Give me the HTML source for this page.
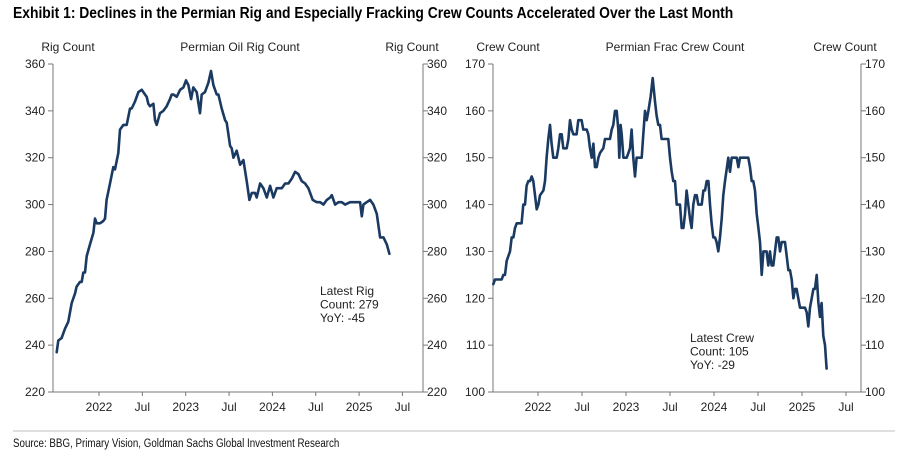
<!DOCTYPE html>
<html><head><meta charset="utf-8">
<style>
html,body{margin:0;padding:0;background:#fff;}
body{width:904px;height:468px;overflow:hidden;position:relative;font-family:"Liberation Sans",sans-serif;}
#title{position:absolute;left:13px;top:5px;font-family:"Liberation Sans",sans-serif;font-weight:bold;font-size:15.5px;color:#000;white-space:nowrap;transform:scaleX(0.895);transform-origin:0 0;}
#sep{position:absolute;left:13px;top:430px;width:882px;height:2px;background:#e0e0e0;}
#source{position:absolute;left:13px;top:438px;font-family:"Liberation Sans",sans-serif;font-size:11.5px;color:#111;white-space:nowrap;transform:scaleX(0.85);transform-origin:0 0;}
svg{position:absolute;left:0;top:0;}
</style></head><body>
<div id="title">Exhibit 1: Declines in the Permian Rig and Especially Fracking Crew Counts Accelerated Over the Last Month</div>
<svg id="chart" width="904" height="468"></svg>
<div id="sep"></div>
<div id="source">Source: BBG, Primary Vision, Goldman Sachs Global Investment Research</div>
<script>
const xTickLabels = ["2022","Jul","2023","Jul","2024","Jul","2025","Jul"];
const xTickValues = [2022,2022.5,2023,2023.5,2024,2024.5,2025,2025.5];
const rigYTicks = [220,240,260,280,300,320,340,360];
const crewYTicks = [100,110,120,130,140,150,160,170];
const rigDates = [2021.512,2021.531,2021.569,2021.608,2021.646,2021.685,2021.723,2021.742,2021.781,2021.8,2021.819,2021.838,2021.858,2021.896,2021.935,2021.954,2021.973,2022.012,2022.05,2022.069,2022.088,2022.127,2022.165,2022.185,2022.223,2022.242,2022.281,2022.319,2022.358,2022.377,2022.415,2022.454,2022.492,2022.531,2022.55,2022.569,2022.588,2022.627,2022.646,2022.665,2022.704,2022.742,2022.781,2022.819,2022.838,2022.858,2022.896,2022.935,2022.973,2023.004,2023.031,2023.062,2023.088,2023.127,2023.165,2023.185,2023.223,2023.262,2023.292,2023.319,2023.358,2023.377,2023.415,2023.454,2023.473,2023.512,2023.531,2023.55,2023.588,2023.627,2023.665,2023.704,2023.735,2023.762,2023.8,2023.819,2023.858,2023.896,2023.935,2023.973,2024.012,2024.05,2024.108,2024.146,2024.185,2024.223,2024.262,2024.3,2024.338,2024.377,2024.415,2024.465,2024.512,2024.55,2024.588,2024.627,2024.665,2024.685,2024.723,2024.762,2024.8,2024.838,2024.896,2024.935,2025.012,2025.031,2025.05,2025.088,2025.127,2025.165,2025.204,2025.242,2025.281,2025.319,2025.35];
const rigValues = [237,242,243,247,250,258,262,265,267,267,271,271,278,283,288,294,292,292,293,294,302,309,316,315,322,332,334,334,341,341,344,348,349,347,346,343,342,343,336,334,339,340,342,345,347,347,346,349,350,353,351,345,350,348,339,347,348,352,357,351,347,347,341,336,335,325,324,320,323,317,319,310,302,305,305,303,309,307,303,308,303,307,307,309,309,311,314,313,310,309,307,302,301,301,300,302,303,304,300,301,301,300,301,301,301,295,300,301,302,300,296,286,286,283,279];
const crewDates = [2021.492,2021.511,2021.568,2021.587,2021.606,2021.625,2021.644,2021.682,2021.701,2021.72,2021.739,2021.758,2021.814,2021.833,2021.852,2021.871,2021.89,2021.909,2021.928,2021.947,2021.966,2021.985,2022.004,2022.023,2022.061,2022.08,2022.098,2022.117,2022.136,2022.155,2022.174,2022.212,2022.231,2022.25,2022.269,2022.288,2022.326,2022.345,2022.364,2022.383,2022.402,2022.439,2022.458,2022.496,2022.515,2022.553,2022.572,2022.591,2022.61,2022.629,2022.648,2022.667,2022.686,2022.705,2022.742,2022.761,2022.818,2022.837,2022.856,2022.875,2022.894,2022.913,2022.924,2022.939,2022.951,2022.97,2023.008,2023.027,2023.045,2023.064,2023.083,2023.102,2023.121,2023.178,2023.197,2023.216,2023.235,2023.254,2023.28,2023.303,2023.33,2023.348,2023.367,2023.386,2023.405,2023.481,2023.5,2023.519,2023.538,2023.557,2023.576,2023.614,2023.633,2023.652,2023.67,2023.689,2023.708,2023.727,2023.746,2023.765,2023.784,2023.803,2023.822,2023.86,2023.879,2023.898,2023.917,2023.936,2023.955,2023.973,2023.992,2024.011,2024.03,2024.049,2024.068,2024.087,2024.106,2024.125,2024.163,2024.182,2024.201,2024.258,2024.277,2024.295,2024.39,2024.409,2024.428,2024.447,2024.466,2024.485,2024.504,2024.523,2024.542,2024.561,2024.598,2024.617,2024.636,2024.655,2024.674,2024.693,2024.712,2024.731,2024.75,2024.769,2024.807,2024.826,2024.845,2024.864,2024.883,2024.902,2024.92,2024.939,2024.958,2024.977,2025.034,2025.053,2025.072,2025.091,2025.11,2025.129,2025.148,2025.167,2025.186,2025.205,2025.223,2025.242,2025.261,2025.28];
const crewValues = [123,124,124,124,125,125,128,130,133,133,135,136,136,140,140,144,145,145,146,145,142,139,140,142,143,145,150,154,157,153,150,150,152,155,155,152,152,154,158,156,155,155,158,158,156,156,155,152,150,153,148,148,150,151,152,154,154,156,157,160,160,156,150,157,155,150,150,151,152,156,150,146,150,150,155,160,158,160,163,167,162,159,157,157,154,154,150,147,145,145,140,140,135,135,138,143,140,137,135,140,142,142,140,140,143,143,145,145,140,136,133,133,132,130,133,137,142,145,150,147,150,150,148,150,150,148,145,145,143,138,135,132,125,130,130,127,130,127,127,130,133,133,130,132,132,129,126,126,124,120,122,122,120,118,118,117,114,118,120,122,122,125,119,116,119,112,110,105];

const NS="http://www.w3.org/2000/svg";
const svg=document.getElementById('chart');
function mk(tag,attrs,parent){const e=document.createElementNS(NS,tag);for(const k in attrs)e.setAttribute(k,attrs[k]);(parent||svg).appendChild(e);return e;}

function drawChart(cfg){
  const g=mk('g',{});
  
  
  const xs=v=>cfg.x0+(v-2022)*cfg.pxYear;
  const ys=v=>cfg.yBot-(v-cfg.yMin)/(cfg.yMax-cfg.yMin)*(cfg.yBot-cfg.yTop);
  const ax='#777';
  const la=mk('line',{x1:cfg.left,x2:cfg.left,y1:cfg.yTop,y2:cfg.yBot,stroke:ax,'stroke-width':1},g);
  
  
  const ra=mk('line',{x1:cfg.right,x2:cfg.right,y1:cfg.yTop,y2:cfg.yBot,stroke:ax,'stroke-width':1},g);
  
  
  const xa=mk('line',{x1:cfg.left,x2:cfg.right,y1:cfg.yBot,y2:cfg.yBot,stroke:ax,'stroke-width':1},g);
  
  
  cfg.yTicks.forEach(v=>{
    const y=ys(v);
    mk('line',{x1:cfg.left-5,x2:cfg.left,y1:y,y2:y,stroke:ax},g);
    mk('line',{x1:cfg.right,x2:cfg.right+5,y1:y,y2:y,stroke:ax},g);
    const t1=mk('text',{x:cfg.left-8,y:y+4,'text-anchor':'end','font-size':12,fill:'#222'},g);
    t1.textContent=v;
    
    
    const t2=mk('text',{x:cfg.right+4,y:y+4,'text-anchor':'start','font-size':12,fill:'#222'},g);
    t2.textContent=v;
    
    
  });
  xTickValues.forEach((v,i)=>{
    const x=xs(v);
    mk('line',{x1:x,x2:x,y1:cfg.yBot,y2:cfg.yBot+4,stroke:ax},g);
    const t=mk('text',{x:x,y:cfg.yBot+19,'text-anchor':'middle','font-size':12,fill:'#222'},g);
    t.textContent=xTickLabels[i];
    
    
  });
  const hdr=[[cfg.lTitleX,cfg.axisTitle,'left-axis-title'],[cfg.cTitleX,cfg.title,'chart-title'],[cfg.rTitleX,cfg.axisTitle,'right-axis-title']];
  hdr.forEach(h=>{
    const t=mk('text',{x:h[0],y:51,'text-anchor':'middle','font-size':12,fill:'#222'},g);
    t.textContent=h[1];
    
    
  });
  let d='';
  cfg.dates.forEach((dt,i)=>{d+=(i?'L':'M')+xs(dt).toFixed(1)+' '+ys(cfg.values[i]).toFixed(1);});
  const p=mk('path',{d:d,fill:'none',stroke:'#1b3a62','stroke-width':2.6,'stroke-linejoin':'round','stroke-linecap':'round'},g);
  
  
  cfg.note.forEach((s,i)=>{
    const t=mk('text',{x:cfg.noteX,y:cfg.noteY+i*13.5,'font-size':12,fill:'#222'},g);
    t.textContent=s;
    
    
  });
}

drawChart({name:'rig-count-chart',left:53,right:423,yTop:64,yBot:392,yMin:220,yMax:360,x0:99,pxYear:86.7,
  yTicks:rigYTicks,dates:rigDates,values:rigValues,seriesName:'rig-count-line',
  axisTitle:'Rig Count',title:'Permian Oil Rig Count',lTitleX:68,cTitleX:240,rTitleX:412,
  note:['Latest Rig','Count: 279','YoY: -45'],noteX:320,noteY:295});
drawChart({name:'frac-crew-chart',left:493,right:861,yTop:64,yBot:392,yMin:100,yMax:170,x0:538,pxYear:88,
  yTicks:crewYTicks,dates:crewDates,values:crewValues,seriesName:'frac-crew-line',
  axisTitle:'Crew Count',title:'Permian Frac Crew Count',lTitleX:508,cTitleX:675,rTitleX:845,
  note:['Latest Crew','Count: 105','YoY: -29'],noteX:690,noteY:342});
</script>
</body></html>
